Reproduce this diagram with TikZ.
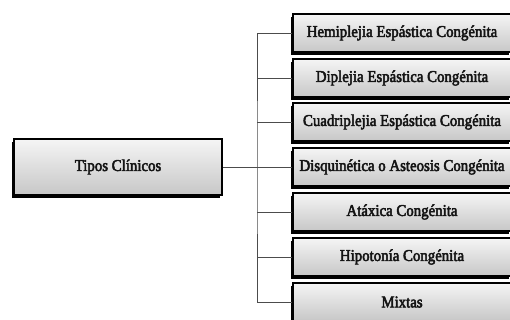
\documentclass[tikz,border=0pt]{standalone}
\usepackage{fontspec}
\setmainfont[FakeStretch=0.9,FakeBold=3]{Liberation Serif}
\usetikzlibrary{shadows}
\tikzset{
  catbox/.style={draw=black, line width=1.8pt, inner sep=0pt,
    top color=white!96!black, bottom color=black!22,
    general shadow={fill=black, shadow xshift=-2pt, shadow yshift=-3pt},
    font=\fontsize{16.5}{18}\selectfont, text=black!92},
  link/.style={draw=black!70, line width=0.9pt}
}
\begin{document}
\begin{tikzpicture}[x=1pt,y=-1pt]
\useasboundingbox (0,0) rectangle (510,320);
\clip (0,0) rectangle (510,320);
\node[catbox, minimum width=208pt, minimum height=56pt] (root) at (118,167) {Tipos Clínicos};
\foreach \n/\yy/\t in {1/33/Hemiplejia Espástica Congénita, 2/78/Diplejia Espástica Congénita, 3/122/Cuadriplejia Espástica Congénita, 4/167/Disquinética o Asteosis Congénita, 5/212/Atáxica Congénita, 6/257/Hipotonía Congénita, 7/302/Mixtas}{
  \node[catbox, minimum width=218pt, minimum height=38pt] (b\n) at (402,\yy) {\t};
}
\coordinate (spine) at (257,167);
\draw[link] (root.east) -- (spine);
\draw[link] (b1.west) -| (spine) |- (b7.west);
\foreach \n in {2,...,6}{
  \draw[link] (b\n.west) -- (spine |- b\n.west);
}
\end{tikzpicture}
\end{document}
